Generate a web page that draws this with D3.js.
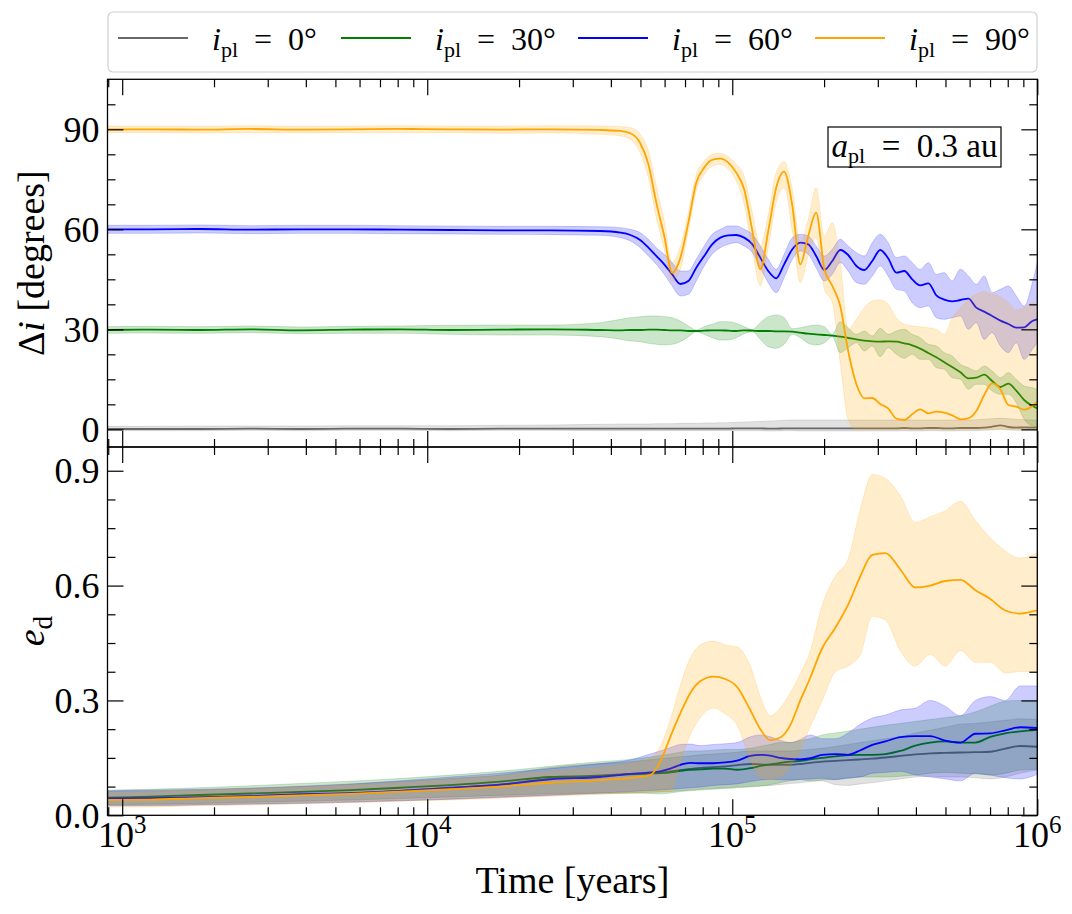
<!DOCTYPE html>
<html>
<head>
<meta charset="utf-8">
<script src="https://cdn.jsdelivr.net/npm/d3@7"></script>
<style>
  body { margin: 0; background: #fff; }
  text { font-family: "Liberation Serif", "DejaVu Serif", serif; }
</style>
</head>
<body>
<div id="container"></div>
<script>
/* DATA */
// time grids, as log10(years)
const topLogT = [2.954, 3.092, 3.256, 3.420, 3.584, 3.748, 3.911, 4.075, 4.239, 4.403, 4.567, 4.633, 4.666,
  4.698, 4.725, 4.751, 4.777, 4.803, 4.830, 4.856, 4.882, 4.908, 4.934,
  4.961, 4.987, 5.013, 5.039, 5.066, 5.092, 5.118, 5.144, 5.170, 5.197,
  5.223, 5.249, 5.275, 5.302, 5.328, 5.354, 5.380, 5.407, 5.433, 5.459,
  5.485, 5.511, 5.538, 5.564, 5.590, 5.616, 5.643, 5.669, 5.695, 5.721,
  5.748, 5.774, 5.800, 5.826, 5.852, 5.879, 5.905, 5.931, 5.957, 5.984,
  6.000];
const botLogT = [2.954, 3.092, 3.256, 3.420, 3.584, 3.748, 3.911, 4.075, 4.239, 4.403, 4.567,
  4.666, 4.731,
  4.764, 4.797, 4.830, 4.862, 4.895,
  4.938, 4.977, 5.016, 5.059,
  5.092, 5.125, 5.157, 5.190, 5.223, 5.256,
  5.295, 5.338, 5.380, 5.420, 5.459, 5.502,
  5.551, 5.600, 5.649, 5.698, 5.748, 5.797, 5.846, 5.895, 5.944,
  6.000];

const inclinations = [0, 30, 60, 90];
const colors = ["dimgray", "green", "blue", "orange"];

// Delta i [degrees]
const inc0 = [0.1, 0.1, 0.1, 0.2, 0.1, 0.2, 0.2, 0.1, 0.2, 0.2, 0.2, 0.2, 0.2,
  0.2, 0.2, 0.2, 0.2, 0.2, 0.2, 0.2, 0.2, 0.2, 0.2,
  0.2, 0.2, 0.3, 0.3, 0.3, 0.3, 0.2, 0.2, 0.3, 0.3,
  0.3, 0.3, 0.3, 0.3, 0.3, 0.3, 0.3, 0.3, 0.3, 0.3,
  0.3, 0.3, 0.3, 0.4, 0.3, 0.3, 0.4, 0.4, 0.3, 0.3,
  0.4, 0.4, 0.4, 0.5, 0.8, 1.2, 0.7, 0.5, 0.6, 0.5,
  0.6];
const inc0Lo = [-0.4, -0.4, -0.4, -0.3, -0.4, -0.3, -0.3, -0.4, -0.3, -0.3, -0.4, -0.4, -0.4,
  -0.4, -0.4, -0.4, -0.4, -0.4, -0.4, -0.4, -0.4, -0.4, -0.4,
  -0.4, -0.4, -0.4, -0.4, -0.4, -0.4, -0.5, -0.5, -0.4, -0.4,
  -0.5, -0.5, -0.5, -0.5, -0.5, -0.5, -0.5, -0.5, -0.5, -0.5,
  -0.5, -0.5, -0.5, -0.4, -0.5, -0.5, -0.4, -0.4, -0.5, -0.5,
  -0.4, -0.4, -0.4, -0.3, -0.2, 0.0, -0.2, -0.3, -0.3, -0.3,
  -0.3];
const inc0Hi = [0.9, 0.9, 1.0, 1.0, 1.0, 1.1, 1.1, 1.1, 1.2, 1.3, 1.5, 1.6, 1.6,
  1.6, 1.6, 1.7, 1.7, 1.7, 1.8, 1.8, 1.8, 1.9, 1.9,
  2.0, 2.0, 2.1, 2.2, 2.3, 2.4, 2.5, 2.6, 2.7, 2.8,
  2.8, 2.8, 2.8, 2.8, 2.8, 2.8, 2.8, 2.8, 2.8, 2.8,
  2.8, 2.8, 2.8, 2.8, 2.8, 2.8, 2.8, 2.8, 2.8, 2.8,
  2.8, 2.8, 2.9, 3.0, 3.2, 3.3, 3.2, 3.0, 2.9, 2.8,
  2.8];

const inc30 = [29.8, 29.9, 29.8, 30.0, 29.7, 29.9, 30.0, 29.8, 29.9, 30.0, 29.8, 29.7, 29.8,
  29.8, 29.9, 29.9, 29.8, 29.7, 29.7, 29.5, 29.5, 29.6, 29.7,
  29.7, 29.6, 29.5, 29.7, 29.6, 29.5, 29.5, 29.4, 29.4, 29.3,
  29.0, 28.7, 28.5, 28.3, 28.1, 27.8, 27.4, 27.0, 26.6, 26.4,
  26.3, 26.4, 26.3, 25.8, 25.2, 24.2, 22.9, 21.6, 20.1, 18.7,
  17.1, 15.3, 15.5, 16.4, 14.5, 12.7, 13.7, 11.6, 8.8, 7.0,
  6.3];
const inc30Lo = [28.8, 28.9, 28.8, 29.0, 28.7, 28.8, 28.8, 28.5, 28.3, 28.3, 27.8, 27.0, 26.5,
  26.3, 25.8, 25.5, 25.3, 25.5, 26.3, 27.8, 29.3, 28.5, 27.5,
  26.8, 26.8, 27.5, 28.7, 29.3, 27.0, 24.8, 24.3, 25.5, 28.5,
  27.5, 25.8, 25.3, 26.0, 27.8, 23.0, 24.5, 26.0, 23.5, 25.0,
  21.8, 24.5, 22.5, 21.3, 22.5, 21.0, 21.0, 18.5, 18.0, 15.5,
  15.0, 12.0, 13.5, 13.5, 11.5, 10.5, 10.5, 8.0, 3.0, 1.0,
  0.8];
const inc30Hi = [30.8, 30.9, 30.8, 31.0, 30.7, 30.9, 31.0, 31.2, 31.3, 31.3, 32.0, 33.0, 33.5,
  33.8, 34.0, 34.0, 33.8, 33.5, 32.5, 31.0, 29.8, 30.8, 31.5,
  32.3, 32.3, 31.8, 30.8, 30.0, 32.0, 33.8, 34.3, 33.5, 30.2,
  30.5, 31.0, 31.3, 30.8, 28.5, 32.3, 30.5, 28.5, 29.5, 28.0,
  30.3, 28.5, 29.5, 30.0, 28.5, 27.5, 25.5, 25.0, 23.0, 22.0,
  19.5, 18.5, 17.5, 19.0, 17.5, 15.5, 17.0, 15.0, 13.0, 12.5,
  12.0];

const inc60 = [60.0, 60.0, 60.1, 59.9, 60.0, 60.0, 59.9, 59.8, 59.7, 59.7, 59.5, 59.0, 58.3,
  56.8, 54.5, 52.0, 49.5, 46.5, 43.6, 44.5, 48.5, 52.0, 55.5,
  57.5, 58.2, 58.3, 57.5, 55.5, 51.5, 47.5, 45.3, 49.5, 54.0,
  56.0, 55.5, 52.0, 47.8, 50.5, 53.8, 52.3, 49.0, 47.8, 50.5,
  53.8, 51.3, 47.0, 47.5, 45.0, 43.2, 43.8, 40.2, 38.9, 38.4,
  38.8, 39.2, 36.5, 35.3, 34.0, 32.6, 31.6, 30.5, 30.6, 32.5,
  33.0];
const inc60Lo = [58.8, 58.8, 58.9, 58.7, 58.8, 58.8, 58.7, 58.6, 58.5, 58.4, 58.2, 57.5, 56.5,
  54.5, 52.0, 49.5, 46.5, 43.0, 40.0, 40.5, 44.5, 49.0, 52.5,
  54.5, 55.5, 56.0, 55.0, 53.0, 48.5, 44.0, 41.0, 45.5, 51.0,
  53.5, 52.5, 48.5, 44.5, 46.5, 50.0, 47.5, 44.0, 43.5, 46.0,
  49.0, 46.0, 42.0, 41.5, 38.0, 36.5, 37.0, 33.5, 33.0, 33.5,
  34.0, 30.0, 32.0, 27.0, 29.0, 25.0, 23.0, 26.0, 21.0, 24.0,
  26.0];
const inc60Hi = [61.2, 61.2, 61.3, 61.1, 61.2, 61.2, 61.1, 61.0, 60.9, 60.9, 60.8, 60.5, 60.0,
  59.0, 57.0, 54.5, 52.5, 50.0, 47.5, 47.5, 51.0, 55.0, 58.5,
  60.0, 61.0, 61.0, 60.0, 58.5, 55.0, 51.0, 48.0, 52.5, 57.5,
  58.5, 58.0, 55.0, 52.0, 54.0, 57.0, 55.0, 53.0, 52.0, 56.0,
  58.5, 56.0, 51.5, 52.0, 50.0, 48.0, 50.0, 46.5, 47.0, 44.5,
  48.0, 46.0, 43.5, 46.0, 41.0, 42.0, 43.0, 40.0, 37.0, 44.0,
  50.0];

const inc90 = [90.0, 90.0, 89.9, 90.1, 89.9, 90.0, 90.1, 90.0, 89.9, 90.0, 89.8, 89.5, 88.8,
  85.9, 79.5, 68.0, 58.0, 47.0, 51.5, 62.0, 74.0, 78.5, 80.8,
  81.2, 80.0, 77.0, 72.0, 59.5, 48.0, 59.5, 72.5, 77.3, 67.0,
  49.5, 58.0, 65.0, 48.0, 43.0, 37.0, 23.5, 13.5, 9.3, 9.4,
  7.6, 6.3, 3.2, 2.8, 4.5, 6.0, 4.8, 5.3, 5.0, 4.2,
  3.0, 3.3, 5.5, 10.3, 13.8, 12.0, 7.3, 6.8, 5.9, 7.0,
  8.3];
const inc90Lo = [89.0, 89.0, 88.9, 89.0, 88.9, 89.0, 89.0, 89.0, 88.8, 88.9, 88.5, 88.0, 87.0,
  83.0, 75.5, 63.5, 54.0, 44.5, 48.0, 59.5, 71.5, 76.5, 79.0,
  79.5, 78.0, 74.5, 67.5, 53.5, 43.0, 54.5, 68.0, 72.5, 59.5,
  44.0, 52.0, 57.5, 42.0, 38.0, 20.0, 3.0, 0.0, 0.0, 0.0,
  0.0, 0.0, 0.0, 0.0, 0.0, 0.0, 0.0, 0.0, 0.0, 0.0,
  0.0, 0.0, 0.0, 0.0, 0.0, 0.0, 0.0, 0.0, 0.0, 0.0,
  0.0];
const inc90Hi = [91.0, 91.0, 90.9, 91.1, 90.9, 91.0, 91.1, 91.0, 91.0, 91.1, 91.0, 90.8, 90.5,
  88.5, 83.5, 73.0, 62.5, 50.0, 55.0, 65.0, 76.5, 80.5, 82.5,
  82.8, 81.8, 79.5, 76.0, 65.0, 55.0, 64.5, 77.0, 80.3, 72.0,
  56.0, 63.0, 72.5, 58.0, 62.0, 50.0, 30.0, 33.0, 36.5, 38.5,
  38.8, 37.5, 33.5, 31.5, 31.0, 30.8, 30.5, 30.0, 28.5, 33.5,
  36.5, 39.0, 40.5, 41.3, 40.5, 39.8, 38.0, 35.8, 36.5, 38.0,
  37.0];

// e_d
const ecc0 = [0.043, 0.044, 0.047, 0.050, 0.054, 0.058, 0.064, 0.071, 0.080, 0.096, 0.104,
  0.108, 0.110,
  0.112, 0.115, 0.118, 0.121, 0.124,
  0.126, 0.128, 0.131, 0.134,
  0.133, 0.132, 0.132, 0.132, 0.134, 0.137,
  0.140, 0.142, 0.144, 0.146, 0.148, 0.151,
  0.155, 0.159, 0.162, 0.163, 0.164, 0.165, 0.166, 0.174, 0.181,
  0.179];
const ecc0Lo = [0.026, 0.026, 0.028, 0.030, 0.032, 0.035, 0.038, 0.042, 0.047, 0.053, 0.056,
  0.058, 0.060,
  0.061, 0.062, 0.064, 0.066, 0.068,
  0.070, 0.072, 0.074, 0.076,
  0.077, 0.078, 0.080, 0.083, 0.085, 0.088,
  0.090, 0.080, 0.078, 0.082, 0.085, 0.090,
  0.095, 0.100, 0.102, 0.100, 0.100, 0.098, 0.095, 0.100, 0.110,
  0.118];
const ecc0Hi = [0.062, 0.063, 0.066, 0.070, 0.075, 0.081, 0.088, 0.096, 0.105, 0.125, 0.135,
  0.140, 0.145,
  0.148, 0.150, 0.153, 0.155, 0.158,
  0.160, 0.162, 0.165, 0.168,
  0.168, 0.168, 0.168, 0.168, 0.170, 0.172,
  0.175, 0.180, 0.185, 0.190, 0.195, 0.200,
  0.205, 0.215, 0.222, 0.230, 0.238, 0.240, 0.244, 0.248, 0.252,
  0.250];

const ecc30 = [0.046, 0.049, 0.053, 0.057, 0.061, 0.066, 0.072, 0.079, 0.088, 0.100, 0.103,
  0.107, 0.109,
  0.110, 0.112, 0.116, 0.119, 0.120,
  0.122, 0.122, 0.119, 0.123,
  0.129, 0.133, 0.137, 0.140, 0.142, 0.146,
  0.150, 0.154, 0.157, 0.158, 0.158, 0.160,
  0.168, 0.182, 0.190, 0.193, 0.190, 0.190, 0.205, 0.214, 0.219,
  0.223];
const ecc30Lo = [0.028, 0.029, 0.031, 0.034, 0.037, 0.040, 0.044, 0.048, 0.052, 0.056, 0.058,
  0.058, 0.057,
  0.056, 0.058, 0.062, 0.064, 0.066,
  0.068, 0.070, 0.072, 0.074,
  0.076, 0.080, 0.085, 0.090, 0.093, 0.090,
  0.092, 0.094, 0.096, 0.100, 0.100, 0.100,
  0.102, 0.105, 0.110, 0.112, 0.110, 0.108, 0.105, 0.110, 0.118,
  0.120];
const ecc30Hi = [0.066, 0.068, 0.072, 0.077, 0.083, 0.089, 0.096, 0.105, 0.115, 0.128, 0.140,
  0.146, 0.152,
  0.156, 0.160, 0.165, 0.168, 0.168,
  0.170, 0.172, 0.172, 0.175,
  0.180, 0.185, 0.190, 0.190, 0.195, 0.200,
  0.210, 0.215, 0.220, 0.225, 0.230, 0.235,
  0.240, 0.245, 0.250, 0.255, 0.260, 0.270, 0.285, 0.298, 0.300,
  0.300];

const ecc60 = [0.044, 0.045, 0.047, 0.050, 0.055, 0.058, 0.064, 0.072, 0.080, 0.094, 0.100,
  0.108, 0.112,
  0.115, 0.122, 0.132, 0.137, 0.136,
  0.136, 0.138, 0.143, 0.155,
  0.158, 0.156, 0.150, 0.147, 0.146, 0.149,
  0.158, 0.160, 0.158, 0.170, 0.184, 0.193,
  0.204, 0.207, 0.207, 0.195, 0.190, 0.213, 0.214, 0.222, 0.230,
  0.228];
const ecc60Lo = [0.025, 0.025, 0.027, 0.029, 0.031, 0.034, 0.038, 0.042, 0.047, 0.052, 0.058,
  0.062, 0.065,
  0.066, 0.068, 0.070, 0.072, 0.074,
  0.078, 0.080, 0.082, 0.088,
  0.092, 0.094, 0.093, 0.092, 0.094, 0.095,
  0.097, 0.093, 0.098, 0.100, 0.110, 0.112,
  0.115, 0.105, 0.100, 0.095, 0.090, 0.110, 0.105, 0.098, 0.095,
  0.107];
const ecc60Hi = [0.064, 0.066, 0.068, 0.071, 0.076, 0.082, 0.090, 0.100, 0.110, 0.122, 0.135,
  0.145, 0.160,
  0.168, 0.177, 0.185, 0.186, 0.182,
  0.185, 0.187, 0.190, 0.205,
  0.210, 0.205, 0.196, 0.190, 0.198, 0.210,
  0.200, 0.200, 0.215, 0.238, 0.254, 0.262,
  0.275, 0.280, 0.300, 0.285, 0.260, 0.300, 0.310, 0.300, 0.338,
  0.338];

const ecc90 = [0.040, 0.041, 0.045, 0.048, 0.052, 0.056, 0.062, 0.068, 0.075, 0.085, 0.092,
  0.098, 0.105,
  0.140, 0.205, 0.267, 0.319, 0.350,
  0.362, 0.356, 0.335, 0.275,
  0.225, 0.196, 0.203, 0.235, 0.300, 0.360,
  0.437, 0.490, 0.550, 0.625, 0.680, 0.685,
  0.642, 0.595, 0.600, 0.612, 0.615, 0.588, 0.565, 0.535, 0.527,
  0.535];
const ecc90Lo = [0.022, 0.022, 0.025, 0.027, 0.030, 0.033, 0.037, 0.040, 0.045, 0.050, 0.055,
  0.058, 0.060,
  0.062, 0.062, 0.140, 0.210, 0.255,
  0.280, 0.265, 0.235, 0.145,
  0.100, 0.095, 0.100, 0.127, 0.170, 0.232,
  0.300, 0.375, 0.390, 0.420, 0.520, 0.510,
  0.430, 0.390, 0.420, 0.390, 0.430, 0.400, 0.400, 0.372, 0.375,
  0.375];
const ecc90Hi = [0.060, 0.062, 0.066, 0.070, 0.074, 0.080, 0.086, 0.094, 0.103, 0.115, 0.125,
  0.135, 0.150,
  0.180, 0.250, 0.340, 0.410, 0.445,
  0.455, 0.445, 0.440, 0.390,
  0.310, 0.260, 0.280, 0.320, 0.370, 0.430,
  0.550, 0.625, 0.670, 0.800, 0.890, 0.880,
  0.835, 0.765, 0.780, 0.795, 0.820, 0.770, 0.725, 0.690, 0.672,
  0.685];

const incTicks = [0, 30, 60, 90];
const eccTicks = [0, 0.3, 0.6, 0.9];
const timeTicks = [1e3, 1e4, 1e5, 1e6];

/* CONSTANTS */
const width = 1072, height = 914;
const left = 107.5, right = 1037.3;
const topY = 79.3, midY = 447, botY = 815.3;
const fontSize = 36;

const incSeries = [
  { mean: inc0, lo: inc0Lo, hi: inc0Hi },
  { mean: inc30, lo: inc30Lo, hi: inc30Hi },
  { mean: inc60, lo: inc60Lo, hi: inc60Hi },
  { mean: inc90, lo: inc90Lo, hi: inc90Hi }
];
const eccSeries = [
  { mean: ecc0, lo: ecc0Lo, hi: ecc0Hi },
  { mean: ecc30, lo: ecc30Lo, hi: ecc30Hi },
  { mean: ecc60, lo: ecc60Lo, hi: ecc60Hi },
  { mean: ecc90, lo: ecc90Lo, hi: ecc90Hi }
];

const svg = d3.select("#container")
  .append("svg")
  .attr("width", width)
  .attr("height", height)
  .style("display", "block")
  .style("background", "#fff");

/* SCALES */
const x = d3.scaleLog().domain([895, 1e6]).range([left, right]);
const yInc = d3.scaleLinear().domain([-5.3, 105]).range([midY, topY]);
const yEcc = d3.scaleLinear().domain([0, 0.962]).range([botY, midY]);

const minorTime = [];
[100, 1000, 10000, 100000].forEach(dec => {
  for (let k = 2; k <= 9; k++) {
    const v = k * dec;
    if (v >= x.domain()[0] && v <= x.domain()[1]) minorTime.push(v);
  }
});

const defs = svg.append("defs");
defs.append("clipPath").attr("id", "clipTop")
  .append("rect").attr("x", left).attr("y", topY).attr("width", right - left).attr("height", midY - topY);
defs.append("clipPath").attr("id", "clipBot")
  .append("rect").attr("x", left).attr("y", midY).attr("width", right - left).attr("height", botY - midY);

/* MARKS */
function drawSeries(clip, y, logT, series) {
  const g = svg.append("g").attr("clip-path", `url(#${clip})`);
  series.forEach((s, k) => {
    const pts = logT.map((L, i) => ({ t: Math.pow(10, L), m: s.mean[i], lo: s.lo[i], hi: s.hi[i] }));
    g.append("path")
      .datum(pts)
      .attr("d", d3.area().x(d => x(d.t)).y0(d => y(d.lo)).y1(d => y(d.hi)).curve(d3.curveMonotoneX))
      .attr("fill", colors[k])
      .attr("fill-opacity", 0.2)
      .attr("stroke", colors[k])
      .attr("stroke-opacity", 0.18)
      .attr("stroke-width", 1);
    g.append("path")
      .datum(pts)
      .attr("d", d3.line().x(d => x(d.t)).y(d => y(d.m)).curve(d3.curveMonotoneX))
      .attr("fill", "none")
      .attr("stroke", colors[k])
      .attr("stroke-width", 1.8);
  });
}
drawSeries("clipTop", yInc, topLogT, incSeries);
drawSeries("clipBot", yEcc, botLogT, eccSeries);

/* AXES */
function ticksOn(axis, tx, ty, values, size) {
  const g = svg.append("g")
    .attr("transform", `translate(${tx},${ty})`)
    .call(axis.tickValues(values).tickSize(size).tickFormat(""));
  g.select(".domain").remove();
  g.selectAll("line").attr("stroke", "#000").attr("stroke-width", 1.2);
  return g;
}
function panelAxes(y, y0, y1, majors, minorStep) {
  const [d0, d1] = y.domain();
  const minors = d3.range(Math.ceil(d0 / minorStep) * minorStep, d1, minorStep)
    .filter(v => !majors.some(m => Math.abs(m - v) < 1e-9));
  ticksOn(d3.axisLeft(y), left, 0, majors, -16);
  ticksOn(d3.axisLeft(y), left, 0, minors, -8);
  ticksOn(d3.axisRight(y), right, 0, majors, -16);
  ticksOn(d3.axisRight(y), right, 0, minors, -8);
  ticksOn(d3.axisBottom(x), 0, y0, timeTicks, -16);
  ticksOn(d3.axisBottom(x), 0, y0, minorTime, -8);
  ticksOn(d3.axisTop(x), 0, y1, timeTicks, -16);
  ticksOn(d3.axisTop(x), 0, y1, minorTime, -8);
  svg.append("rect")
    .attr("x", left).attr("y", y1)
    .attr("width", right - left).attr("height", y0 - y1)
    .attr("fill", "none").attr("stroke", "#000").attr("stroke-width", 1.3);
}
panelAxes(yInc, midY, topY, incTicks, 7.5);
panelAxes(yEcc, botY, midY, eccTicks, 0.075);

// y tick labels
svg.append("g").selectAll("text")
  .data(incTicks).join("text")
  .attr("x", left - 8).attr("y", d => yInc(d)).attr("dy", "0.35em")
  .attr("text-anchor", "end").attr("font-size", fontSize)
  .text(d => d3.format("d")(d));
svg.append("g").selectAll("text")
  .data(eccTicks).join("text")
  .attr("x", left - 8).attr("y", d => yEcc(d)).attr("dy", "0.35em")
  .attr("text-anchor", "end").attr("font-size", fontSize)
  .text(d => d3.format(".1f")(d));

// x tick labels 10^n
const xl = svg.append("g").selectAll("text")
  .data(timeTicks).join("text")
  .attr("x", d => x(d)).attr("y", 847)
  .attr("text-anchor", "middle").attr("font-size", fontSize);
xl.append("tspan").text("10");
xl.append("tspan").attr("dy", -14).attr("font-size", 25).text(d => Math.round(Math.log10(d)));

/* LABELS */
const yl1 = svg.append("text")
  .attr("transform", `translate(44,${(topY + midY) / 2}) rotate(-90)`)
  .attr("text-anchor", "middle").attr("font-size", 38);
yl1.append("tspan").text("Δ");
yl1.append("tspan").attr("font-style", "italic").text("i");
yl1.append("tspan").text(" [degrees]");

const yl2 = svg.append("text")
  .attr("transform", `translate(44,${(midY + botY) / 2}) rotate(-90)`)
  .attr("text-anchor", "middle").attr("font-size", 38);
yl2.append("tspan").attr("font-style", "italic").text("e");
yl2.append("tspan").attr("dy", 8).attr("font-size", 27).text("d");

svg.append("text")
  .attr("x", (left + right) / 2).attr("y", 893)
  .attr("text-anchor", "middle").attr("font-size", 38)
  .text("Time [years]");

// a_pl box
svg.append("rect")
  .attr("x", 828).attr("y", 127).attr("width", 173).attr("height", 40)
  .attr("fill", "#fff").attr("stroke", "#000").attr("stroke-width", 1.2);
const ap = svg.append("text")
  .attr("x", 914.5).attr("y", 157)
  .attr("text-anchor", "middle").attr("font-size", 33);
ap.append("tspan").attr("font-style", "italic").text("a");
ap.append("tspan").attr("dy", 6).attr("font-size", 22).text("pl");
ap.append("tspan").attr("dy", -6).text("\u2002=\u20020.3 au");

/* LEGEND */
svg.append("rect")
  .attr("x", 108).attr("y", 12).attr("width", 929).attr("height", 60)
  .attr("rx", 5)
  .attr("fill", "#fff").attr("stroke", "#d0d0d0").attr("stroke-width", 1.2);
const legendX = [118, 341, 578, 815];
const lg = svg.append("g").selectAll("g")
  .data(inclinations).join("g")
  .attr("transform", (d, i) => `translate(${legendX[i]},40)`);
lg.append("line")
  .attr("x1", 0).attr("x2", 70).attr("y1", -2).attr("y2", -2)
  .attr("stroke", (d, i) => colors[i]).attr("stroke-width", 1.8);
const lt = lg.append("text")
  .attr("x", 94).attr("y", 10).attr("font-size", 32);
lt.append("tspan").attr("font-style", "italic").text("i");
lt.append("tspan").attr("dy", 7).attr("font-size", 22).text("pl");
lt.append("tspan").attr("dy", -7).text(d => `\u2002=\u2002${d}°`);
</script>
</body>
</html>
